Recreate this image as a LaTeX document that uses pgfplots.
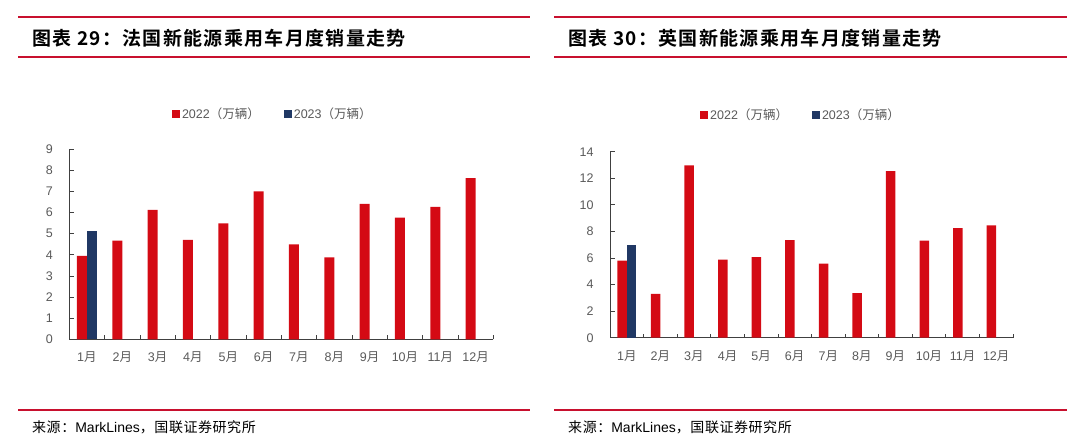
\documentclass[border=0pt]{standalone}
\usepackage{fontspec}
\setmainfont{Liberation Sans}
\newfontfamily\cjk{Noto Sans CJK SC}
\newfontfamily\cjkb{Noto Sans CJK SC Bold}[LetterSpace=7]
\newfontfamily\cjks{Noto Sans CJK SC}[LetterSpace=4]
\usepackage{pgfplots}
\pgfplotsset{compat=1.18}
\definecolor{barred}{RGB}{212,10,20}
\definecolor{barblue}{RGB}{32,56,100}
\definecolor{linered}{RGB}{200,16,46}
\definecolor{txtgray}{RGB}{89,89,89}
\newcommand\yue{{\cjk 月}}
\pgfplotsset{
  mybars/.style={
    scale only axis,
    ybar=0pt,
    xmin=0.5, xmax=12.5, ymin=0,
    axis x line*=bottom, axis y line*=left,
    axis line style={draw=black!75, line width=0.8pt},
    tick align=inside,
    xtick={1,...,12},
    xticklabels={1\yue,2\yue,3\yue,4\yue,5\yue,6\yue,7\yue,8\yue,9\yue,10\yue,11\yue,12\yue},
    minor xtick={0.5,1.5,...,12.5},
    major x tick style={draw=none},
    minor tick length=4pt,
    major tick length=5pt,
    every tick/.style={draw=black!75, line width=0.8pt},
    tick label style={font=\fontsize{12.5}{14}\selectfont, text=txtgray},
    xticklabel style={yshift=-9pt},
    yticklabel style={xshift=-13pt},
    /pgf/number format/assume math mode=true,
    legend columns=2,
    legend style={draw=none, fill=none, font=\fontsize{12.5}{14}\selectfont, text=txtgray,
      /tikz/every even column/.append style={column sep=22pt}},
    legend image code/.code={\fill[##1] (0pt,-4pt) rectangle (8pt,4pt);},
  }
}
\begin{document}
\begin{tikzpicture}
\useasboundingbox (0pt,0pt) rectangle (1080pt,-445pt);
% left panel frame
\draw[linered, line width=1.5pt] (18pt,-17pt) -- (530pt,-17pt);
\draw[linered, line width=1.5pt] (18pt,-57pt) -- (530pt,-57pt);
\draw[linered, line width=1.5pt] (18pt,-410pt) -- (530pt,-410pt);
\node[anchor=west, inner sep=0pt] at (32pt,-38pt) {\fontsize{19}{21}\selectfont\cjkb 图表 29：法国新能源乘用车月度销量走势};
\node[anchor=west, inner sep=0pt] at (32pt,-427pt) {\fontsize{14}{16}\selectfont{\cjks 来源：}MarkLines{\cjks ，国联证券研究所}};
% right panel frame
\draw[linered, line width=1.5pt] (554pt,-17pt) -- (1067pt,-17pt);
\draw[linered, line width=1.5pt] (554pt,-57pt) -- (1067pt,-57pt);
\draw[linered, line width=1.5pt] (554pt,-410pt) -- (1067pt,-410pt);
\node[anchor=west, inner sep=0pt] at (568pt,-38pt) {\fontsize{19}{21}\selectfont\cjkb 图表 30：英国新能源乘用车月度销量走势};
\node[anchor=west, inner sep=0pt] at (568pt,-427pt) {\fontsize{14}{16}\selectfont{\cjks 来源：}MarkLines{\cjks ，国联证券研究所}};

\begin{axis}[mybars,
  at={(69.3pt,-339.3pt)}, anchor=south west,
  width=424pt, height=190pt,
  bar width=10pt,
  ymax=9, ytick={0,1,...,9},
  legend style={at={(0.48,1.184)}, anchor=center},
]
\addplot[fill=barred, draw=none] coordinates {
(1,3.95) (2,4.67) (3,6.13) (4,4.71) (5,5.49) (6,7.01) (7,4.50) (8,3.88) (9,6.41) (10,5.76) (11,6.27) (12,7.63)};
\addplot[fill=barblue, draw=none] coordinates {(1,5.15)};
\legend{2022{\cjk （万辆）},2023{\cjk （万辆）}}
\end{axis}

\begin{axis}[mybars,
  at={(610pt,-337.7pt)}, anchor=south west,
  width=403pt, height=186pt,
  bar width=9.5pt,
  ymax=14, ytick={0,2,...,14},
  legend style={at={(0.474,1.197)}, anchor=center},
]
\addplot[fill=barred, draw=none] coordinates {
(1,5.80) (2,3.29) (3,12.97) (4,5.87) (5,6.07) (6,7.35) (7,5.57) (8,3.36) (9,12.54) (10,7.30) (11,8.25) (12,8.45)};
\addplot[fill=barblue, draw=none] coordinates {(1,6.95)};
\legend{2022{\cjk （万辆）},2023{\cjk （万辆）}}
\end{axis}
\end{tikzpicture}
\end{document}
